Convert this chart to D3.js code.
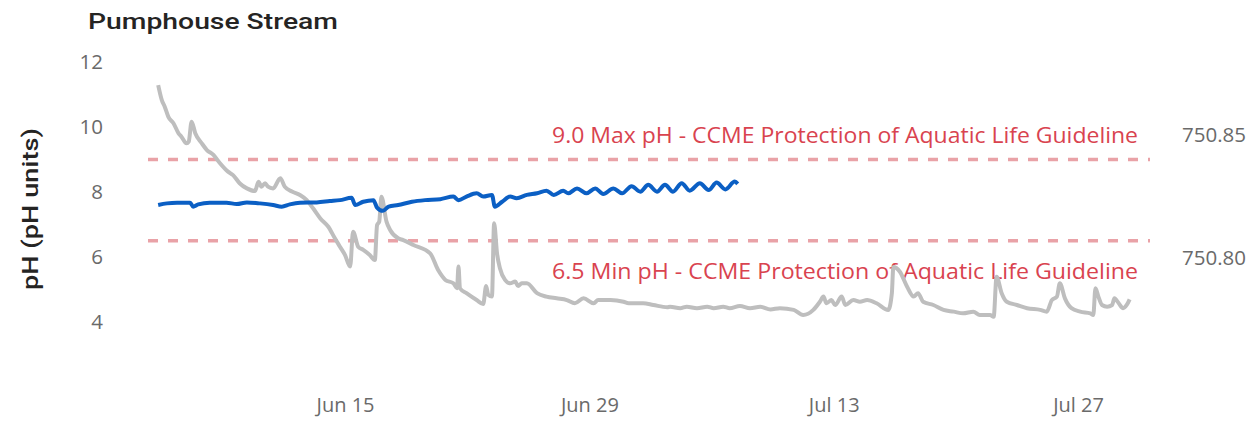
<!DOCTYPE html>
<html>
<head>
<meta charset="utf-8">
<script src="https://cdn.jsdelivr.net/npm/d3@7"></script>
<style>
  body { margin: 0; background: #fff; }
  text { font-family: "Open Sans", "Noto Sans", sans-serif; }
</style>
</head>
<body>
<div id="chart-area"></div>
<script>
// pH readings (left axis)
const phSeries = [
  ["06-04 07", 7.60], ["06-04 19", 7.65], ["06-05 09", 7.67], ["06-06 03", 7.67],
  ["06-06 07", 7.55], ["06-06 14", 7.62], ["06-07 06", 7.67], ["06-08 05", 7.67],
  ["06-08 19", 7.63], ["06-09 09", 7.68], ["06-10 03", 7.65], ["06-10 21", 7.60],
  ["06-11 09", 7.55], ["06-11 20", 7.62], ["06-12 10", 7.67], ["06-13 09", 7.68],
  ["06-14 03", 7.72], ["06-14 17", 7.75], ["06-15 09", 7.82], ["06-15 14", 7.60],
  ["06-16 01", 7.70], ["06-16 15", 7.75], ["06-16 20", 7.52], ["06-17 04", 7.42],
  ["06-17 12", 7.55], ["06-18 01", 7.60], ["06-18 20", 7.70], ["06-19 14", 7.75],
  ["06-20 11", 7.78], ["06-21 05", 7.86], ["06-21 12", 7.75], ["06-21 23", 7.86],
  ["06-22 13", 7.96], ["06-22 22", 7.86], ["06-23 10", 7.91], ["06-23 14", 7.55],
  ["06-24 00", 7.70], ["06-24 11", 7.86], ["06-24 20", 7.81], ["06-25 10", 7.91],
  ["06-26 00", 7.96], ["06-26 13", 8.04], ["06-26 23", 7.91], ["06-27 12", 8.04],
  ["06-27 19", 7.96], ["06-28 07", 8.11], ["06-28 20", 7.96], ["06-29 08", 8.11],
  ["06-29 19", 7.94], ["06-30 09", 8.11], ["06-30 21", 7.96], ["07-01 10", 8.18],
  ["07-01 22", 8.01], ["07-02 09", 8.22], ["07-02 21", 8.01], ["07-03 08", 8.22],
  ["07-03 19", 8.01], ["07-04 07", 8.27], ["07-04 18", 8.04], ["07-05 08", 8.27],
  ["07-05 20", 8.06], ["07-06 07", 8.29], ["07-06 19", 8.08], ["07-07 08", 8.32],
  ["07-07 12", 8.25]
];

// water level readings (right axis)
const levelSeries = [
  ["06-04 07", 750.8703], ["06-04 12", 750.8642], ["06-04 16", 750.8615], ["06-04 21", 750.8574],
  ["06-05 04", 750.8548], ["06-05 11", 750.8507], ["06-05 15", 750.8493], ["06-05 22", 750.8466],
  ["06-06 01", 750.8473], ["06-06 05", 750.8554], ["06-06 10", 750.8507], ["06-06 19", 750.8466],
  ["06-07 02", 750.8439], ["06-07 11", 750.8419], ["06-07 20", 750.8385], ["06-08 07", 750.8351],
  ["06-08 14", 750.8337], ["06-08 23", 750.8304], ["06-09 09", 750.8283], ["06-09 20", 750.8272],
  ["06-10 01", 750.8310], ["06-10 05", 750.8290], ["06-10 10", 750.8304], ["06-10 14", 750.8290],
  ["06-10 21", 750.8283], ["06-11 07", 750.8324], ["06-11 13", 750.8290], ["06-11 23", 750.8270],
  ["06-12 10", 750.8256], ["06-12 19", 750.8236], ["06-13 04", 750.8202], ["06-13 14", 750.8161],
  ["06-14 01", 750.8127], ["06-14 10", 750.8080], ["06-14 17", 750.8046], ["06-15 00", 750.8012],
  ["06-15 07", 750.7965], ["06-15 11", 750.8107], ["06-15 18", 750.8046], ["06-16 01", 750.8033],
  ["06-16 10", 750.8012], ["06-16 17", 750.7992], ["06-16 20", 750.8134], ["06-16 23", 750.8148],
  ["06-17 02", 750.8249], ["06-17 09", 750.8148], ["06-17 14", 750.8114], ["06-18 01", 750.8080],
  ["06-18 08", 750.8073], ["06-18 22", 750.8053], ["06-19 21", 750.8019], ["06-20 08", 750.7951],
  ["06-20 18", 750.7911], ["06-21 05", 750.7897], ["06-21 10", 750.7877], ["06-21 12", 750.7965],
  ["06-21 14", 750.7877], ["06-21 23", 750.7857], ["06-22 13", 750.7829], ["06-22 22", 750.7813],
  ["06-23 02", 750.7886], ["06-23 05", 750.7850], ["06-23 10", 750.7843], ["06-23 13", 750.8141],
  ["06-23 17", 750.8019], ["06-23 21", 750.7958], ["06-24 04", 750.7911], ["06-24 11", 750.7897],
  ["06-24 18", 750.7904], ["06-24 22", 750.7886], ["06-25 03", 750.7897], ["06-25 10", 750.7897],
  ["06-26 00", 750.7857], ["06-26 13", 750.7843], ["06-27 03", 750.7836], ["06-27 17", 750.7829],
  ["06-28 04", 750.7816], ["06-28 16", 750.7836], ["06-29 06", 750.7816], ["06-29 12", 750.7829],
  ["06-30 05", 750.7829], ["06-30 23", 750.7822], ["07-01 06", 750.7816], ["07-02 02", 750.7816],
  ["07-02 16", 750.7809], ["07-03 11", 750.7800], ["07-03 15", 750.7802], ["07-04 05", 750.7796],
  ["07-04 14", 750.7802], ["07-05 04", 750.7796], ["07-05 18", 750.7802], ["07-06 03", 750.7796],
  ["07-06 16", 750.7802], ["07-07 01", 750.7796], ["07-07 15", 750.7805], ["07-08 05", 750.7796],
  ["07-08 19", 750.7802], ["07-09 09", 750.7791], ["07-09 22", 750.7796], ["07-10 17", 750.7789],
  ["07-11 06", 750.7768], ["07-11 20", 750.7789], ["07-12 05", 750.7822], ["07-12 10", 750.7843],
  ["07-12 14", 750.7816], ["07-12 21", 750.7829], ["07-13 02", 750.7809], ["07-13 11", 750.7843],
  ["07-13 16", 750.7809], ["07-14 03", 750.7829], ["07-14 12", 750.7822], ["07-14 22", 750.7829],
  ["07-15 11", 750.7816], ["07-16 03", 750.7789], ["07-16 08", 750.7857], ["07-16 10", 750.7963],
  ["07-16 19", 750.7944], ["07-17 05", 750.7883], ["07-17 14", 750.7843], ["07-17 20", 750.7857],
  ["07-18 03", 750.7822], ["07-18 17", 750.7809], ["07-19 07", 750.7789], ["07-19 21", 750.7782],
  ["07-20 10", 750.7775], ["07-21 00", 750.7782], ["07-21 09", 750.7768], ["07-21 23", 750.7768],
  ["07-22 04", 750.7761], ["07-22 08", 750.7924], ["07-22 15", 750.7857], ["07-22 22", 750.7822],
  ["07-23 12", 750.7809], ["07-24 02", 750.7796], ["07-24 20", 750.7789], ["07-25 05", 750.7782],
  ["07-25 12", 750.7829], ["07-25 19", 750.7843], ["07-25 23", 750.7897], ["07-26 06", 750.7836],
  ["07-26 15", 750.7796], ["07-27 03", 750.7782], ["07-27 17", 750.7775], ["07-27 21", 750.7768],
  ["07-28 00", 750.7877], ["07-28 04", 750.7843], ["07-28 09", 750.7809], ["07-28 16", 750.7802],
  ["07-28 23", 750.7809], ["07-29 02", 750.7836], ["07-29 08", 750.7816], ["07-29 14", 750.7796],
  ["07-29 19", 750.7809], ["07-29 23", 750.7832]
];

const guidelines = [
  { value: 9.0, label: "9.0 Max pH - CCME Protection of Aquatic Life Guideline", above: true },
  { value: 6.5, label: "6.5 Min pH - CCME Protection of Aquatic Life Guideline", above: false }
];

const xTicks = ["06-15 00", "06-29 00", "07-13 00", "07-27 00"];
const phTicks = [4, 6, 8, 10, 12];
const levelTicks = [750.80, 750.85];

const parse = d3.timeParse("%m-%d %H");

let svgW = 1253;
let svgH = 423;

let plot = { left: 148, right: 1150 };

const x = d3.scaleTime()
  .domain([parse("06-03 17"), parse("07-31 03")])
  .range([plot.left, plot.right]);

const y = d3.scaleLinear()
  .domain([4, 12])
  .range([322, 62]);

const yRight = d3.scaleLinear()
  .domain([750.80, 750.85])
  .range([258, 135]);

let svg = d3.select("#chart-area")
  .append("svg")
  .attr("width", svgW)
  .attr("height", svgH);

// title
svg.append("text")
  .attr("x", 88)
  .attr("y", 29)
  .attr("font-size", 22)
  .attr("font-weight", 500)
  .attr("fill", "#252423")
  .attr("textLength", 250)
  .attr("lengthAdjust", "spacingAndGlyphs")
  .style("font-family", "Roboto, sans-serif")
  .text("Pumphouse Stream");

// axis title
svg.append("text")
  .attr("transform", "translate(38,209) rotate(-90)")
  .attr("text-anchor", "middle")
  .attr("font-size", 22)
  .attr("font-weight", 500)
  .attr("fill", "#252423")
  .attr("textLength", 162)
  .attr("lengthAdjust", "spacingAndGlyphs")
  .style("font-family", "Roboto, sans-serif")
  .text("pH (pH units)");

// left axis
let gLeft = svg.append("g")
  .attr("transform", "translate(103,0)")
  .call(d3.axisLeft(y).tickValues(phTicks).tickSize(0).tickPadding(0));

// right axis
let gRight = svg.append("g")
  .attr("transform", "translate(1182,0)")
  .call(d3.axisRight(yRight).tickValues(levelTicks).tickSize(0).tickPadding(0)
    .tickFormat(d3.format(".2f")));

// bottom axis
let gBottom = svg.append("g")
  .attr("transform", "translate(0,398)")
  .call(d3.axisBottom(x).tickValues(xTicks.map(parse)).tickSize(0).tickPadding(0)
    .tickFormat(d3.timeFormat("%b %-d")));

[gLeft, gRight, gBottom].forEach(g => {
  g.select(".domain").remove();
  g.selectAll("text")
    .attr("fill", "#6A6A6A")
    .style("font-family", "'Open Sans', sans-serif");
});
gLeft.selectAll("text").attr("font-size", 20.5);
gRight.selectAll("text").attr("font-size", 20.5);
gBottom.selectAll("text").attr("font-size", 20);

// guideline lines + labels
guidelines.forEach(g => {
  svg.append("line")
    .attr("x1", plot.left)
    .attr("x2", plot.right)
    .attr("y1", y(g.value))
    .attr("y2", y(g.value))
    .attr("stroke", "#E9A2A7")
    .attr("stroke-width", 3.5)
    .attr("stroke-dasharray", "10,10");

  svg.append("text")
    .attr("x", 1138)
    .attr("y", g.above ? y(g.value) - 17 : y(g.value) + 38)
    .attr("text-anchor", "end")
    .attr("font-size", 21)
    .attr("fill", "#D9434F")
    .attr("textLength", 586)
    .attr("lengthAdjust", "spacingAndGlyphs")
    .text(g.label);
});

// series
const levelLine = d3.line()
  .x(d => x(parse(d[0])))
  .y(d => yRight(d[1]))
  .curve(d3.curveMonotoneX);

const phLine = d3.line()
  .x(d => x(parse(d[0])))
  .y(d => y(d[1]))
  .curve(d3.curveMonotoneX);

svg.append("path")
  .datum(levelSeries)
  .attr("d", levelLine)
  .attr("fill", "none")
  .attr("stroke", "#BEBEBE")
  .attr("stroke-width", 4)
  .attr("stroke-linejoin", "round");

svg.append("path")
  .datum(phSeries)
  .attr("d", phLine)
  .attr("fill", "none")
  .attr("stroke", "#0B5FC4")
  .attr("stroke-width", 4)
  .attr("stroke-linejoin", "round");
</script>
</body>
</html>
